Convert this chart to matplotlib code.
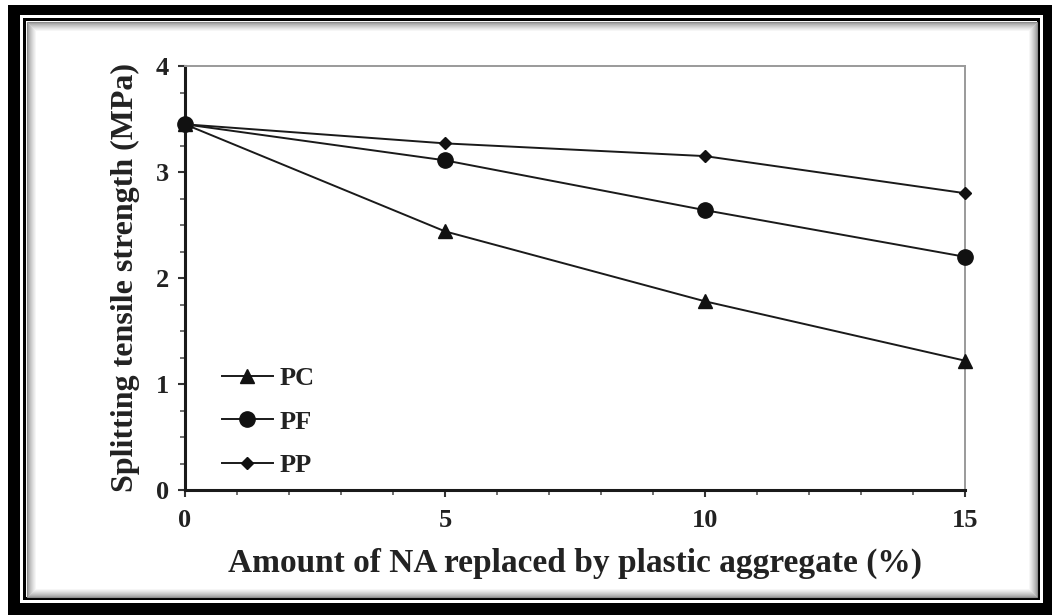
import numpy as np
import matplotlib.pyplot as plt
from matplotlib.patches import Rectangle
from matplotlib.ticker import MultipleLocator

# Data
replacement = [0, 5, 10, 15]  # % NA replaced
pc = [3.45, 2.44, 1.78, 1.22]
pf = [3.45, 3.11, 2.64, 2.20]
pp = [3.45, 3.27, 3.15, 2.80]
series_labels = ["PC", "PF", "PP"]
x_ticks = [0, 5, 10, 15]
y_ticks = [0, 1, 2, 3, 4]

W, H = 1052, 615
fig = plt.figure(figsize=(W / 100, H / 100), dpi=100)
plt.rcParams["font.family"] = ["Liberation Serif", "DejaVu Serif"]


def px_rect(x0, y0, x1, y1, **kw):
    # rectangle given in pixel coords measured from top-left
    return Rectangle((x0 / W, 1 - y1 / H), (x1 - x0) / W, (y1 - y0) / H,
                     transform=fig.transFigure, figure=fig, zorder=-10, **kw)


# framed border
fig.patches.append(px_rect(8, 5, W + 5, H + 5, facecolor="black", edgecolor="none"))
fig.patches.append(px_rect(20, 15, 1043, 603, facecolor="white", edgecolor="none"))
fig.patches.append(px_rect(23, 18, 1040, 600, facecolor="black", edgecolor="none"))
fig.patches.append(px_rect(26, 21, 1037, 597, facecolor="white", edgecolor="none"))
# soft inner shadow
for i in range(10):
    g = 0.55 + 0.45 * (i / 9) ** 0.7
    fig.patches.append(px_rect(26 + i + 0.5, 21 + i + 0.5, 1037 - i - 0.5, 597 - i - 0.5,
                               facecolor="none", edgecolor=(g, g, g), linewidth=0.8))

ax = fig.add_axes([185 / W, 1 - 490 / H, (965 - 185) / W, (490 - 66) / H])
ax.set_facecolor("none")

line_kw = dict(color="#1a1a1a", linewidth=1.4, markeredgecolor="#111111",
               markerfacecolor="#111111", clip_on=False, zorder=3)
ax.plot(replacement, pc, marker="^", markersize=10, label=series_labels[0], **line_kw)
ax.plot(replacement, pf, marker="o", markersize=11, label=series_labels[1], **line_kw)
ax.plot(replacement, pp, marker="D", markersize=6.5, label=series_labels[2], **line_kw)

ax.set_xlim(0, 15)
ax.set_ylim(0, 4)
ax.set_xticks(x_ticks)
ax.set_yticks(y_ticks)
ax.xaxis.set_minor_locator(MultipleLocator(1))
ax.yaxis.set_minor_locator(MultipleLocator(0.25))

for side in ["left", "bottom"]:
    ax.spines[side].set_color("#1a1a1a")
    ax.spines[side].set_linewidth(2.2)
for side in ["top", "right"]:
    ax.spines[side].set_color("#9a9a9a")
    ax.spines[side].set_linewidth(1.4)

ax.tick_params(axis="both", which="major", direction="out", length=5, width=1.5,
               color="#333333", labelsize=19, labelcolor="#222222")
ax.tick_params(axis="x", which="major", pad=9)
ax.tick_params(axis="y", which="major", pad=6.5)
ax.tick_params(axis="both", which="minor", direction="out", length=3.5, width=1.2,
               color="#555555")
for lab in ax.get_xticklabels() + ax.get_yticklabels():
    lab.set_fontweight("bold")

ax.set_xlabel("Amount of NA replaced by plastic aggregate (%)", fontsize=24,
              fontweight="bold", color="#222222", labelpad=11)
ax.set_ylabel("Splitting tensile strength (MPa)", fontsize=23,
              fontweight="bold", color="#222222", labelpad=11)

leg = ax.legend(loc="lower left", bbox_to_anchor=(0.031, 0.0), frameon=False,
                prop={"weight": "bold", "size": 19}, handlelength=1.9,
                labelspacing=0.75, handletextpad=0.27, borderaxespad=0.1)
for t in leg.get_texts():
    t.set_color("#222222")

fig.savefig("out.png", dpi=100)
